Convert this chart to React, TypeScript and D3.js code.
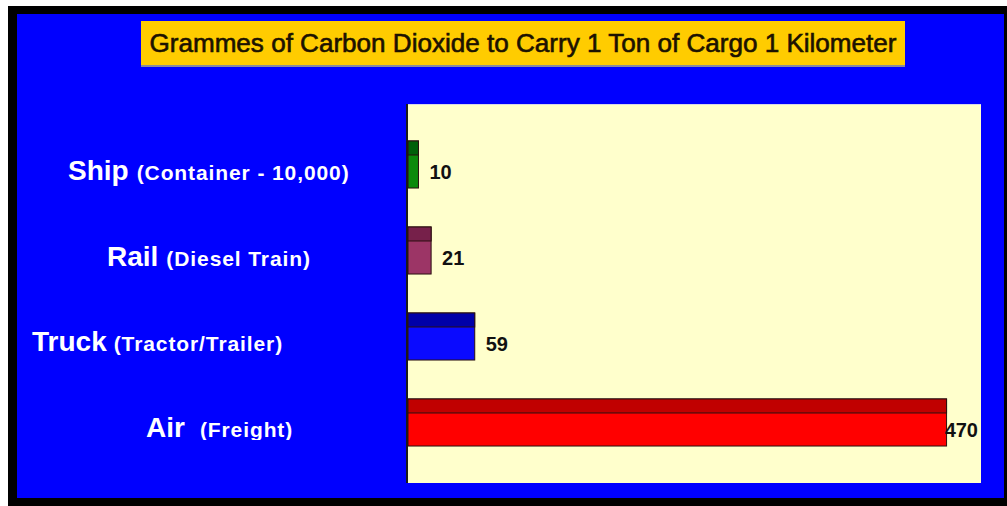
import React from 'react';
import * as d3 from 'd3';

// chart data
const modes = ['Ship', 'Rail', 'Truck', 'Air'];
const details = ['(Container - 10,000)', '(Diesel Train)', '(Tractor/Trailer)', '(Freight)'];
const grams = [10, 21, 59, 470];
const bodyColors = ['#0b8a0b', '#9c3566', '#0a0aff', '#ff0000'];
const topColors = ['#00600a', '#76204a', '#0000a8', '#c00000'];
const title = 'Grammes of Carbon Dioxide to Carry 1 Ton of Cargo 1 Kilometer';

const W = 1007;
const H = 506;
const plot = { left: 407, right: 981, top: 104, bottom: 483 };

export default function App() {
  const x = d3.scaleLinear().domain([0, 500]).range([plot.left, plot.right]);
  const y = d3
    .scaleBand()
    .domain(modes)
    .range([plot.top, plot.bottom])
    .paddingInner(0.453)
    .paddingOuter(0.43);
  const bw = y.bandwidth();
  const strip = 14;

  // left edge of each category label (they are not aligned in the original)
  const labelX = [68, 107, 32, 146];
  const gapX = [8, 8, 7, 15];

  return (
    <svg
      width={W}
      height={H}
      style={{ position: 'fixed', left: 0, top: 0, display: 'block' }}
      fontFamily="'Liberation Sans', Arial, sans-serif"
    >
      <defs>
        <clipPath id="labelClip">
          <rect x={0} y={0} width={plot.left} height={440} />
        </clipPath>
      </defs>
      <rect x={0} y={0} width={W} height={H} fill="#ffffff" />
      <rect x={8} y={6} width={W - 8} height={H - 6} fill="#000000" />
      <rect x={17} y={14} width={1004 - 17} height={498 - 14} fill="#0000ff" />

      {/* title box */}
      <rect x={141} y={21} width={905 - 141} height={46} fill="#8a8a9a" />
      <rect x={141} y={21} width={905 - 141} height={44} fill="#ffcc00" />
      <text
        x={523}
        y={52}
        textAnchor="middle"
        fontSize={25}
        fill="#1c1200"
        stroke="#1c1200"
        strokeWidth={0.6}
        textLength={747}
        lengthAdjust="spacingAndGlyphs"
      >
        {title}
      </text>

      {/* plot area */}
      <rect
        x={plot.left}
        y={plot.top}
        width={plot.right - plot.left}
        height={plot.bottom - plot.top}
        fill="#ffffcc"
      />
      <line x1={plot.left} x2={plot.right} y1={plot.top + 0.5} y2={plot.top + 0.5} stroke="#d8d8e8" />
      <line x1={plot.left} x2={plot.left} y1={plot.top} y2={plot.bottom} stroke="#1a1a1a" strokeWidth={2} />

      {/* bars */}
      {modes.map((m, i) => {
        const y0 = y(m) as number;
        const x1 = x(grams[i]);
        return (
          <g key={m}>
            <rect
              x={plot.left + 1}
              y={y0}
              width={x1 - plot.left - 1}
              height={bw}
              fill={bodyColors[i]}
              stroke="#2a1010"
              strokeWidth={1}
            />
            <rect
              x={plot.left + 1}
              y={y0}
              width={x1 - plot.left - 1}
              height={strip}
              fill={topColors[i]}
              stroke="#2a1010"
              strokeWidth={1}
            />
          </g>
        );
      })}

      {/* value labels */}
      {modes.map((m, i) => {
        const y0 = y(m) as number;
        const cy = y0 + strip + (bw - strip) / 2;
        const label = String(grams[i]);
        const est = label.length * 11.1;
        const fits = x(grams[i]) + 11 + est <= plot.right - 3;
        return (
          <text
            key={m}
            x={fits ? x(grams[i]) + 11 : plot.right - 3}
            y={cy}
            dy="0.36em"
            textAnchor={fits ? 'start' : 'end'}
            fontSize={20}
            fontWeight="bold"
            fill="#111111"
          >
            {label}
          </text>
        );
      })}

      {/* category labels */}
      <g clipPath="url(#labelClip)">
        {modes.map((m, i) => {
          const y0 = y(m) as number;
          const base = y0 + strip + (bw - strip) / 2 + 8;
          return (
            <text key={m} x={labelX[i]} y={base} fill="#ffffff" fontWeight="bold">
              <tspan fontSize={28}>{m}</tspan>
              <tspan fontSize={21} dx={gapX[i]} letterSpacing={0.9}>
                {details[i]}
              </tspan>
            </text>
          );
        })}
      </g>
    </svg>
  );
}
